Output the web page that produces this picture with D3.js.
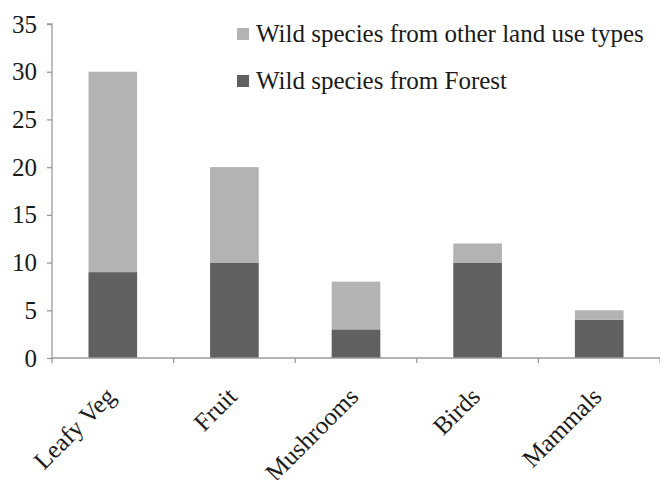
<!DOCTYPE html>
<html>
<head>
<meta charset="utf-8">
<script src="https://cdnjs.cloudflare.com/ajax/libs/d3/7.8.5/d3.min.js"></script>
<style>
  html, body { margin: 0; padding: 0; background: #fff; }
  svg { display: block; }
</style>
</head>
<body>
<svg id="chart" width="660" height="480"></svg>
<script>
const categories = ["Leafy Veg", "Fruit", "Mushrooms", "Birds", "Mammals"];
const forestValues = [9, 10, 3, 10, 4];
const otherValues = [21, 10, 5, 2, 1];
const yTicks = [0, 5, 10, 15, 20, 25, 30, 35];
const seriesNames = ["Wild species from other land use types", "Wild species from Forest"];
const seriesColors = ["#b3b3b3", "#606060"];

const FONT = "'Liberation Serif', 'Times New Roman', Times, Tinos, 'DejaVu Serif', serif";
const svg = d3.select("#chart");
const mLeft = 52, mRight = 660, mTop = 24, mBottom = 358;

const x = d3.scaleBand().domain(categories).range([mLeft, mRight]).paddingInner(0.6).paddingOuter(0.3);
const xb = d3.scaleBand().domain(categories).range([mLeft, mRight]);
const y = d3.scaleLinear().domain([0, 35]).range([mBottom, mTop]);

const rows = categories.map((c, i) => ({ cat: c, forest: forestValues[i], other: otherValues[i] }));
const stack = d3.stack().keys(["forest", "other"])(rows);
const colorByKey = { forest: seriesColors[1], other: seriesColors[0] };

svg.append("g").selectAll("g").data(stack).join("g")
  .attr("fill", d => colorByKey[d.key])
  .selectAll("rect").data(d => d).join("rect")
  .attr("x", d => x(d.data.cat))
  .attr("width", x.bandwidth())
  .attr("y", d => y(d[1]))
  .attr("height", d => y(d[0]) - y(d[1]));

const axisColor = "#9a9a9a";

// y axis
const yAxis = svg.append("g").attr("transform", `translate(${mLeft},0)`)
  .call(d3.axisLeft(y).tickValues(yTicks).tickSize(5).tickPadding(10));
yAxis.attr("font-family", FONT).attr("font-size", 25);
yAxis.selectAll("path, line").attr("stroke", axisColor).attr("stroke-width", 1.3);
yAxis.select(".domain").attr("d", `M-5,${mTop}H0V${mBottom + 5}`);
yAxis.selectAll("text").attr("font-size", 25).attr("font-family", FONT).attr("fill", "#1a1a1a");

// x axis
const xg = svg.append("g");
xg.append("line").attr("x1", mLeft).attr("x2", mRight).attr("y1", mBottom).attr("y2", mBottom)
  .attr("stroke", axisColor).attr("stroke-width", 1.3);
const bounds = categories.map(c => xb(c)).concat([xb(categories[categories.length - 1]) + xb.bandwidth()]);
xg.selectAll("line.tick").data(bounds.slice(1)).join("line").attr("class", "tick")
  .attr("x1", d => d).attr("x2", d => d).attr("y1", mBottom).attr("y2", mBottom + 5)
  .attr("stroke", axisColor).attr("stroke-width", 1.3);
xg.selectAll("text").data(categories).join("text")
  .attr("text-anchor", "end")
  .attr("font-size", 25)
  .attr("font-family", FONT)
  .attr("fill", "#1a1a1a")
  .attr("transform", d => `translate(${x(d) + x.bandwidth() / 2 + 4},${mBottom + 40}) rotate(-45)`)
  .text(d => d);

// legend
const legend = svg.append("g");
seriesNames.forEach((name, i) => {
  const ly = 40 + i * 47;
  legend.append("rect").attr("x", 237).attr("y", ly - 12).attr("width", 12).attr("height", 12).attr("fill", seriesColors[i]);
  legend.append("text").attr("x", 256).attr("y", ly + 2).attr("font-size", 25)
    .attr("font-family", FONT).attr("fill", "#1a1a1a").text(name);
});
</script>
</body>
</html>
